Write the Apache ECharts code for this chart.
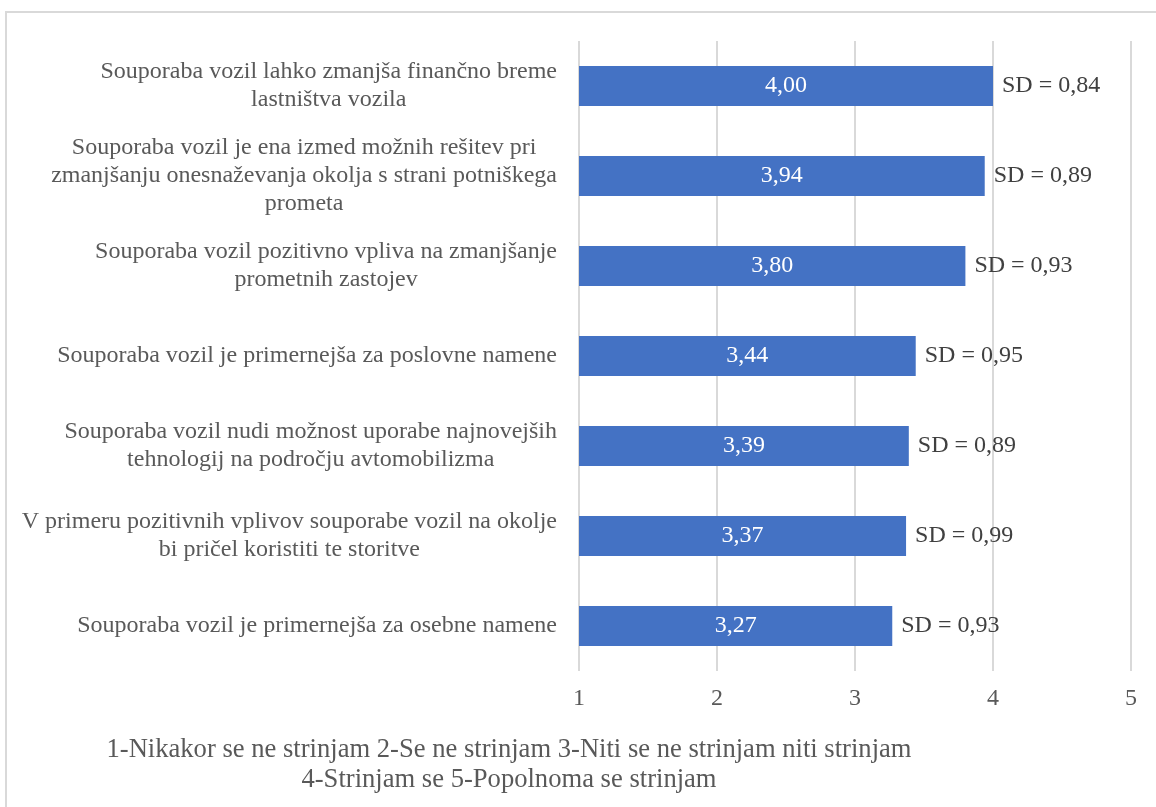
<!DOCTYPE html>
<html>
<head>
<meta charset="utf-8">
<script src="https://cdn.jsdelivr.net/npm/echarts@6/dist/echarts.min.js"></script>
<style>
  html, body { margin: 0; padding: 0; background: #fff; }
  #chart { width: 1156px; height: 807px; }
</style>
</head>
<body>
<div id="chart"></div>
<script>
// Statements (line breaks as they are shown beside the bars)
const statements = [
  'Souporaba vozil lahko zmanjša finančno breme\nlastništva vozila',
  'Souporaba vozil je ena izmed možnih rešitev pri\nzmanjšanju onesnaževanja okolja s strani potniškega\nprometa',
  'Souporaba vozil pozitivno vpliva na zmanjšanje\nprometnih zastojev',
  'Souporaba vozil je primernejša za poslovne namene',
  'Souporaba vozil nudi možnost uporabe najnovejših\ntehnologij na področju avtomobilizma',
  'V primeru pozitivnih vplivov souporabe vozil na okolje\nbi pričel koristiti te storitve',
  'Souporaba vozil je primernejša za osebne namene'
];
// Mean agreement (1–5 scale)
const means = [4.00, 3.94, 3.80, 3.44, 3.39, 3.37, 3.27];
// Standard deviations
const sds = [0.84, 0.89, 0.93, 0.95, 0.89, 0.99, 0.93];
// Scale ticks
const scaleTicks = [1, 2, 3, 4, 5];
// Scale legend below the chart
const scaleNote = [
  '1-Nikakor se ne strinjam 2-Se ne strinjam 3-Niti se ne strinjam niti strinjam',
  '4-Strinjam se 5-Popolnoma se strinjam'
];

const FONT = '"Liberation Serif", "Times New Roman", serif';
const TEXT = '#595959';
const fmt = v => v.toFixed(2).replace('.', ',');

const chart = echarts.init(document.getElementById('chart'));
chart.setOption({
  backgroundColor: '#fff',
  animation: false,
  textStyle: { fontFamily: FONT },
  grid: { left: 579, right: 25, top: 41, bottom: 136, containLabel: false },
  xAxis: {
    type: 'value',
    min: scaleTicks[0],
    max: scaleTicks[scaleTicks.length - 1],
    interval: 1,
    axisLine: { show: false },
    axisTick: { show: false },
    splitLine: { show: true, lineStyle: { color: '#d9d9d9', width: 2 } },
    axisLabel: { color: TEXT, fontFamily: FONT, fontSize: 24, margin: 16 }
  },
  yAxis: {
    type: 'category',
    inverse: true,
    data: statements,
    axisLine: { show: false },
    axisTick: { show: false },
    axisLabel: {
      margin: 22,
      formatter: v => v.split('\n').map(s => '{c|' + s + '}').join('\n'),
      rich: {
        c: { align: 'center', color: TEXT, fontFamily: FONT, fontSize: 24, lineHeight: 28 }
      }
    }
  },
  series: [
    {
      type: 'bar',
      data: means,
      barWidth: 40,
      itemStyle: { color: '#4472c4' },
      label: {
        show: true,
        position: 'inside',
        color: '#fff',
        fontFamily: FONT,
        fontSize: 24,
        formatter: p => fmt(p.value)
      },
      z: 2
    },
    {
      type: 'bar',
      data: means,
      barWidth: 40,
      barGap: '-100%',
      itemStyle: { color: 'rgba(0,0,0,0)' },
      label: {
        show: true,
        position: 'right',
        distance: 9,
        color: '#404040',
        fontFamily: FONT,
        fontSize: 24,
        formatter: p => 'SD = ' + fmt(sds[p.dataIndex])
      },
      z: 3
    }
  ],
  graphic: [
    {
      type: 'rect',
      shape: { x: 6, y: 12, width: 1170, height: 820 },
      style: { fill: 'none', stroke: '#d9d9d9', lineWidth: 2 },
      silent: true
    },
    {
      type: 'text',
      x: 509,
      y: 735,
      style: {
        text: scaleNote.join('\n'),
        align: 'center',
        fill: TEXT,
        font: '26.6px ' + FONT,
        lineHeight: 30
      }
    }
  ]
});
</script>
</body>
</html>
